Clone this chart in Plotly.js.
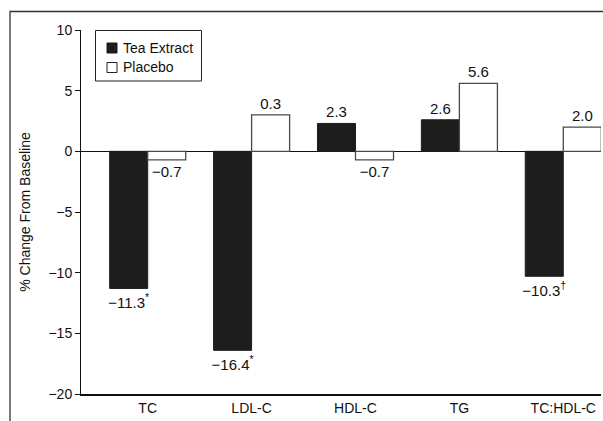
<!DOCTYPE html>
<html>
<head>
<meta charset="utf-8">
<script src="https://cdn.plot.ly/plotly-3.0.1.min.js"></script>
<style>html,body{margin:0;padding:0;background:#fff}#chart{width:603px;height:421px}</style>
</head>
<body>
<div id="chart"></div>
<script>
const categories = ["TC", "LDL-C", "HDL-C", "TG", "TC:HDL-C"];
const teaValues = [-11.3, -16.4, 2.3, 2.6, -10.3];
const placeboValues = [-0.7, 3.0, -0.7, 5.6, 2.0];
const teaLabels = ["\u221211.3<sup>*</sup>", "\u221216.4<sup>*</sup>", "2.3", "2.6", "\u221210.3<sup>\u2020</sup>"];
const placeboLabels = ["\u22120.7", "0.3", "\u22120.7", "5.6", "2.0"];
const seriesNames = ["Tea Extract", "Placebo"];
const yTicks = [-20, -15, -10, -5, 0, 5, 10];
const yTickText = ["\u221220", "\u221215", "\u221210", "\u22125", "0", "5", "10"];

const FONT = "'Liberation Sans', Arial, sans-serif";
const TEA = "#1d1d1d";
const PLACEBO_LINE = "#4a4a4a";

const traces = [
  {
    type: "bar", name: seriesNames[0], x: categories, y: teaValues,
    text: teaLabels, textposition: "outside", cliponaxis: false, constraintext: "none",
    textfont: {family: FONT, size: 15, color: "#111"},
    marker: {color: TEA, line: {color: TEA, width: 1}},
    hoverinfo: "none"
  },
  {
    type: "bar", name: seriesNames[1], x: categories, y: placeboValues,
    text: placeboLabels, textposition: "outside", cliponaxis: false, constraintext: "none",
    textfont: {family: FONT, size: 15, color: "#111"},
    marker: {color: "#ffffff", line: {color: PLACEBO_LINE, width: 1.3}},
    hoverinfo: "none"
  }
];

// paper-coordinate helpers for the plot area (l=81, t=30, w=520, h=364)
const px = v => (v - 81) / 520;
const py = v => (394 - v) / 364;

const layout = {
  width: 603, height: 421,
  margin: {l: 81, r: 2, t: 30, b: 27, pad: 0},
  paper_bgcolor: "#fff", plot_bgcolor: "#fff",
  font: {family: FONT, size: 14, color: "#111"},
  barmode: "group", bargap: 0.268, bargroupgap: 0,
  showlegend: false,
  xaxis: {
    type: "category", range: [-0.642, 4.363],
    showline: true, linecolor: "#111", linewidth: 1.8,
    ticks: "", showgrid: false, zeroline: false,
    tickfont: {family: FONT, size: 14, color: "#111"},
    fixedrange: true
  },
  yaxis: {
    range: [-20, 10], tickvals: yTicks, ticktext: yTickText,
    showline: true, linecolor: "#111", linewidth: 1,
    ticks: "outside", ticklen: 5, tickcolor: "#111", tickwidth: 1,
    showgrid: false, zeroline: true, zerolinecolor: "#111", zerolinewidth: 1.2,
    tickfont: {family: FONT, size: 14, color: "#111"},
    title: {text: "% Change From Baseline", font: {family: FONT, size: 14, color: "#111"}, standoff: 14},
    fixedrange: true
  },
  shapes: [
    {type: "rect", xref: "paper", yref: "paper",
     x0: px(10), x1: 1.2, y0: -0.3, y1: py(11.5),
     line: {color: "#333", width: 1.3}, fillcolor: "rgba(0,0,0,0)", layer: "below"},
    // legend box and swatches
    {type: "rect", xref: "paper", yref: "paper",
     x0: px(95.5), x1: px(201.5), y0: py(81), y1: py(30.5),
     line: {color: "#222", width: 1}, fillcolor: "#fff", layer: "above"},
    {type: "rect", xref: "paper", yref: "paper",
     x0: px(107), x1: px(117), y0: py(53), y1: py(43),
     line: {color: TEA, width: 1}, fillcolor: TEA, layer: "above"},
    {type: "rect", xref: "paper", yref: "paper",
     x0: px(107), x1: px(117), y0: py(72.5), y1: py(62.5),
     line: {color: "#222", width: 1}, fillcolor: "#fff", layer: "above"}
  ],
  annotations: [
    {xref: "paper", yref: "paper", x: px(121), y: py(47.5), xanchor: "left", yanchor: "middle",
     text: seriesNames[0], showarrow: false, font: {family: FONT, size: 14, color: "#111"}},
    {xref: "paper", yref: "paper", x: px(121), y: py(67.5), xanchor: "left", yanchor: "middle",
     text: seriesNames[1], showarrow: false, font: {family: FONT, size: 14, color: "#111"}}
  ]
};

Plotly.newPlot("chart", traces, layout, {displayModeBar: false, staticPlot: true});
</script>
</body>
</html>
